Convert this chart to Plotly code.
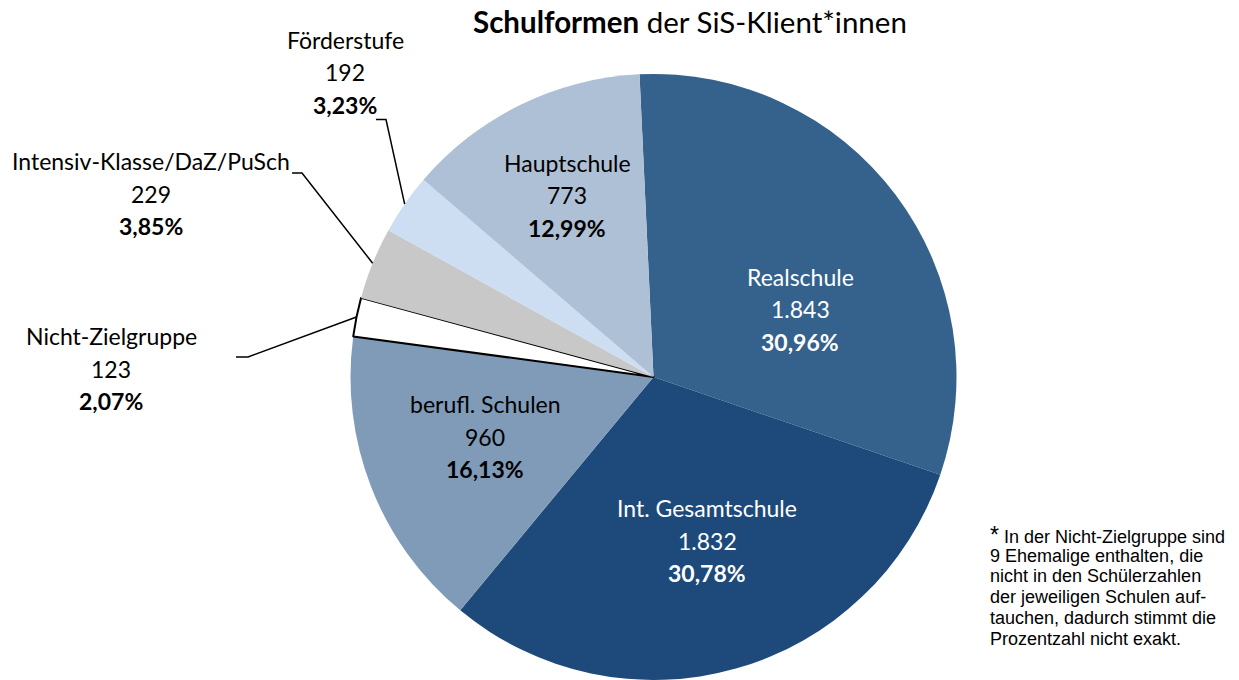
import math
import plotly.graph_objects as go

# ---- data ----
categories = ["Realschule", "Int. Gesamtschule", "berufl. Schulen", "Nicht-Zielgruppe",
              "Intensiv-Klasse/DaZ/PuSch", "Förderstufe", "Hauptschule"]
values = [1843, 1832, 960, 123, 229, 192, 773]
colors = ["#35628D", "#1D4A7B", "#7F9BB8", "#FFFFFF", "#C8C8C8", "#CDDEF2", "#AEC0D5"]
label_colors = ["white", "white", "black", "black", "black", "black", "black"]
footnote_lines = ["In der Nicht-Zielgruppe sind", "9 Ehemalige enthalten, die",
                  "nicht in den Schülerzahlen", "der jeweiligen Schulen auf-",
                  "tauchen, dadurch stimmt die", "Prozentzahl nicht exakt."]

# ---- layout constants (pixels) ----
W, H = 1239, 680
CX, CY, R = 653.5, 377, 303
ROT = -2.65
FONT = "Lato"
LABEL_SIZE = 23

# label block centre x and first-line centre y, line spacing
label_pos = {
    "Realschule": (800, 277),
    "Int. Gesamtschule": (707, 508),
    "berufl. Schulen": (485, 404),
    "Nicht-Zielgruppe": (111, 336),
    "Intensiv-Klasse/DaZ/PuSch": (151, 161),
    "Förderstufe": (345, 40),
    "Hauptschule": (567, 163),
}
LS = 32.5
# leader line start (text side) and elbow in pixels
leaders = {
    "Förderstufe": [(376, 119.5), (386, 119.5)],
    "Intensiv-Klasse/DaZ/PuSch": [(292, 173), (302, 173)],
    "Nicht-Zielgruppe": [(236, 357), (248, 357)],
}


def px(x):
    return x / W


def py(y):
    return 1 - y / H


def fmt_int(v):
    return f"{v:,}".replace(",", ".")


total = sum(values)

fig = go.Figure(go.Pie(
    labels=categories,
    values=values,
    sort=False,
    direction="clockwise",
    rotation=ROT,
    textinfo="none",
    hoverinfo="label+value+percent",
    marker=dict(colors=colors,
                line=dict(color=["rgba(0,0,0,0)"] * 3 + ["black"] + ["rgba(0,0,0,0)"] * 3,
                          width=[0, 0, 0, 2, 0, 0, 0])),
    domain=dict(x=[(CX - R) / W, (CX + R) / W], y=[py(CY + R), py(CY - R)]),
    showlegend=False,
))

annotations = []
shapes = []

cum = 0
for name, v, tc in zip(categories, values, label_colors):
    pct = v / total * 100
    lines = [name, fmt_int(v), "<b>" + f"{pct:.2f}".replace(".", ",") + "%</b>"]
    lx, ly = label_pos[name]
    for i, t in enumerate(lines):
        annotations.append(dict(
            x=px(lx), y=py(ly + i * LS), xref="paper", yref="paper",
            text=t, showarrow=False, xanchor="center", yanchor="middle",
            font=dict(family=FONT, size=LABEL_SIZE, color=tc)))
    if name in leaders:
        ang = math.radians(ROT + 360 * (cum + v / 2) / total)
        ex = CX + R * math.sin(ang)
        ey = CY - R * math.cos(ang)
        (sx, sy), (bx, by) = leaders[name]
        path = f"M {px(sx)},{py(sy)} L {px(bx)},{py(by)} L {px(ex)},{py(ey)}"
        shapes.append(dict(type="path", path=path, xref="paper", yref="paper",
                           line=dict(color="black", width=1.5)))
    cum += v

# title
annotations.append(dict(
    x=px(690), y=py(22), xref="paper", yref="paper", showarrow=False,
    xanchor="center", yanchor="middle",
    text="<b>Schulformen</b> der SiS-Klient*innen",
    font=dict(family=FONT, size=29.5, color="black")))

# footnote
FN_Y0, FN_LS = 535, 20.7
for i, t in enumerate(footnote_lines):
    txt = ("<span style='font-size:23px'>*</span> " + t) if i == 0 else t
    annotations.append(dict(
        x=px(988), y=py(FN_Y0 + i * FN_LS), xref="paper", yref="paper",
        showarrow=False, xanchor="left", yanchor="middle", align="left",
        text=txt, font=dict(family="Liberation Sans", size=18, color="black")))

fig.update_layout(
    width=W, height=H,
    margin=dict(l=0, r=0, t=0, b=0),
    paper_bgcolor="white", plot_bgcolor="white",
    annotations=annotations, shapes=shapes,
)

fig.write_html("out.html",
               config={"displayModeBar": False},
               post_script="document.body.style.margin='0px';"
                           "document.body.style.overflow='hidden';")
